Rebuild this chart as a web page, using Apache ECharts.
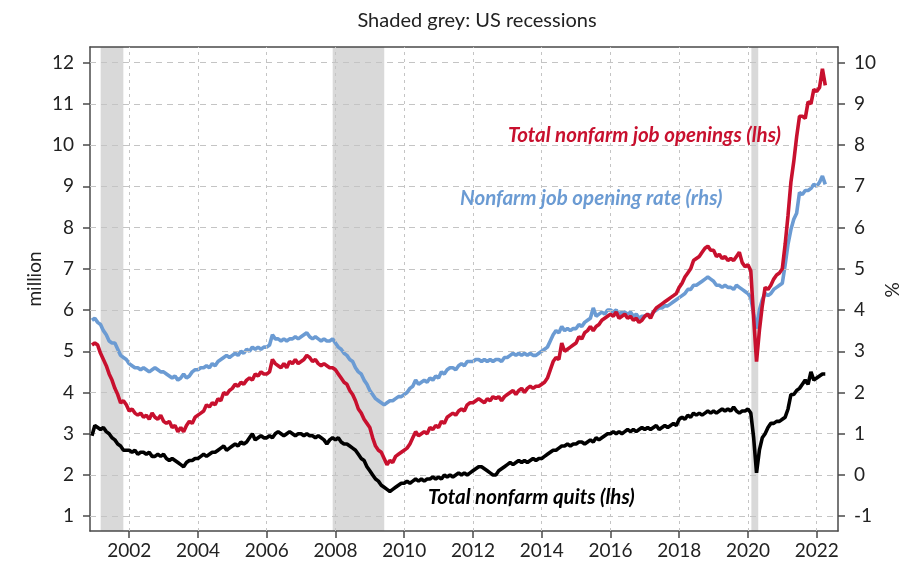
<!DOCTYPE html>
<html>
<head>
<meta charset="utf-8">
<script src="https://cdn.jsdelivr.net/npm/echarts@6/dist/echarts.min.js"></script>
<style>
  html, body { margin: 0; padding: 0; background: #fff; }
  #main { width: 918px; height: 566px; }
</style>
</head>
<body>
<div id="main"></div>
<script>
// monthly JOLTS, Dec 2000 .. Apr 2022
var startYear = 2000 + 11 / 12;

// total nonfarm job openings, million (lhs)
var openings = [
  5.15,
  5.2, 5.15, 4.95, 4.8, 4.65, 4.45, 4.3, 4.1, 3.95, 3.75, 3.8, 3.7,
  3.55, 3.6, 3.5, 3.45, 3.5, 3.4, 3.45, 3.35, 3.5, 3.4, 3.35, 3.45,
  3.3, 3.25, 3.3, 3.15, 3.2, 3.05, 3.15, 3.05, 3.2, 3.3, 3.25, 3.4,
  3.45, 3.5, 3.55, 3.7, 3.65, 3.75, 3.7, 3.85, 3.8, 4.0, 3.95, 4.05,
  4.1, 4.2, 4.15, 4.25, 4.2, 4.3, 4.35, 4.3, 4.45, 4.4, 4.5, 4.45,
  4.45, 4.5, 4.8, 4.7, 4.65, 4.6, 4.7, 4.6, 4.75, 4.7, 4.8, 4.7,
  4.75, 4.8, 4.9, 4.85, 4.75, 4.8, 4.7, 4.65, 4.7, 4.65, 4.6, 4.6,
  4.55, 4.45, 4.35, 4.25, 4.2, 4.05, 3.95, 3.8, 3.6, 3.5, 3.35, 3.25,
  3.15, 2.9, 2.7, 2.6, 2.55, 2.4, 2.25, 2.35, 2.3, 2.45, 2.5, 2.55,
  2.6, 2.65, 2.75, 2.9, 3.05, 2.95, 3.0, 3.05, 3.0, 3.15, 3.1, 3.2,
  3.15, 3.3, 3.25, 3.4, 3.45, 3.5, 3.45, 3.55, 3.6, 3.55, 3.7, 3.75,
  3.75, 3.8, 3.85, 3.8, 3.75, 3.85, 3.8, 3.9, 3.85, 3.9, 3.8, 3.9,
  3.95, 4.0, 4.05, 3.95, 4.05, 4.1, 4.0, 4.1, 4.15, 4.1, 4.15, 4.15,
  4.2, 4.25, 4.35, 4.55, 4.75, 4.85, 4.8, 5.2, 5.0, 5.05, 5.1, 5.15,
  5.2, 5.35, 5.3, 5.45, 5.5, 5.6, 5.5, 5.6, 5.65, 5.75, 5.8, 5.85,
  5.9, 5.85, 5.95, 5.8, 5.85, 5.9, 5.8, 5.85, 5.75, 5.8, 5.7, 5.75,
  5.85, 5.9, 5.8, 5.95, 6.05, 6.1, 6.15, 6.2, 6.25, 6.3, 6.35, 6.4,
  6.55, 6.65, 6.8, 6.9, 7.0, 7.2, 7.25, 7.3, 7.4, 7.5, 7.55, 7.45,
  7.45, 7.3, 7.35, 7.25, 7.3, 7.2, 7.25, 7.2, 7.3, 7.4, 7.15, 7.05,
  7.1, 6.95, 5.8, 4.75, 5.5, 6.1, 6.55, 6.5, 6.6, 6.75, 6.85, 6.9,
  7.0, 7.6, 8.3, 9.1, 9.6, 10.2, 10.7, 10.7, 10.65, 11.05, 11.0, 11.35,
  11.3, 11.4, 11.85, 11.45
];

// total nonfarm quits, million (lhs)
var quits = [
  2.95,
  3.2, 3.15, 3.1, 3.15, 3.05, 3.0, 2.9, 2.85, 2.75, 2.7, 2.6, 2.6,
  2.6, 2.55, 2.6, 2.5, 2.55, 2.55, 2.5, 2.55, 2.45, 2.45, 2.5, 2.45,
  2.5, 2.4, 2.35, 2.4, 2.35, 2.3, 2.25, 2.2, 2.3, 2.35, 2.35, 2.4,
  2.4, 2.45, 2.5, 2.45, 2.5, 2.55, 2.55, 2.6, 2.65, 2.7, 2.6, 2.65,
  2.7, 2.75, 2.7, 2.8, 2.75, 2.8, 2.9, 3.0, 2.85, 2.9, 2.95, 2.9,
  2.9, 2.95, 2.9, 3.0, 3.05, 3.0, 2.95, 3.0, 3.05, 3.0, 2.95, 3.0,
  3.0, 2.95, 3.0, 2.95, 2.95, 2.9, 2.95, 2.9, 2.85, 2.75, 2.85, 2.9,
  2.85, 2.9, 2.8, 2.75, 2.75, 2.7, 2.65, 2.6, 2.5, 2.4, 2.35, 2.2,
  2.1, 2.0, 1.9, 1.85, 1.75, 1.7, 1.65, 1.6, 1.65, 1.7, 1.75, 1.8,
  1.8, 1.85, 1.8, 1.85, 1.9, 1.85, 1.9, 1.85, 1.9, 1.9, 1.95, 1.9,
  1.95, 1.9, 2.0, 1.95, 2.0, 1.95, 2.0, 2.05, 2.0, 2.05, 2.0, 2.05,
  2.1, 2.15, 2.2, 2.2, 2.15, 2.1, 2.05, 2.0, 2.0, 2.1, 2.15, 2.2,
  2.25, 2.3, 2.25, 2.3, 2.35, 2.3, 2.35, 2.3, 2.35, 2.4, 2.35, 2.4,
  2.4, 2.45, 2.5, 2.55, 2.6, 2.6, 2.65, 2.7, 2.7, 2.75, 2.7, 2.75,
  2.75, 2.8, 2.8, 2.75, 2.8, 2.85, 2.8, 2.9, 2.85, 2.9, 2.95, 3.0,
  3.0, 3.05, 3.0, 3.05, 3.0, 3.05, 3.1, 3.05, 3.1, 3.05, 3.1, 3.15,
  3.1, 3.15, 3.1, 3.15, 3.2, 3.1, 3.15, 3.2, 3.15, 3.2, 3.25, 3.2,
  3.35, 3.4, 3.35, 3.45, 3.4, 3.5, 3.45, 3.5, 3.45, 3.5, 3.55, 3.5,
  3.55, 3.5, 3.55, 3.6, 3.55, 3.6, 3.55, 3.65, 3.55, 3.5, 3.55, 3.55,
  3.6, 3.5, 2.9, 2.05, 2.6, 2.9, 3.0, 3.15, 3.25, 3.25, 3.3, 3.3,
  3.35, 3.4, 3.6, 3.95, 3.95, 4.05, 4.1, 4.2, 4.3, 4.2, 4.5, 4.3,
  4.35, 4.4, 4.45, 4.45
];

// nonfarm job opening rate, % (rhs)
var openingRate = [
  3.75,
  3.8, 3.7, 3.65, 3.5, 3.4, 3.25, 3.2, 3.2, 3.05, 2.9, 2.85, 2.8,
  2.7, 2.65, 2.6, 2.6, 2.55, 2.6, 2.55, 2.5, 2.55, 2.6, 2.55, 2.5,
  2.5, 2.45, 2.4, 2.35, 2.4, 2.3, 2.35, 2.45, 2.35, 2.4, 2.5, 2.55,
  2.55, 2.6, 2.6, 2.65, 2.6, 2.7, 2.65, 2.75, 2.8, 2.85, 2.9, 2.85,
  2.9, 2.95, 2.9, 3.0, 2.95, 3.05, 3.0, 3.1, 3.05, 3.1, 3.05, 3.1,
  3.1, 3.15, 3.4, 3.3, 3.3, 3.25, 3.3, 3.25, 3.3, 3.3, 3.35, 3.3,
  3.35, 3.4, 3.45, 3.35, 3.3, 3.35, 3.3, 3.25, 3.3, 3.25, 3.25, 3.3,
  3.2, 3.1, 3.05, 2.95, 2.9, 2.8, 2.75, 2.6, 2.5, 2.45, 2.3, 2.2,
  2.05, 1.95, 1.85, 1.8, 1.75, 1.7, 1.75, 1.8, 1.8, 1.85, 1.9, 1.9,
  1.95, 2.0, 2.1, 2.15, 2.3, 2.2, 2.25, 2.3, 2.25, 2.35, 2.3, 2.4,
  2.35, 2.5, 2.45, 2.55, 2.6, 2.6, 2.55, 2.65, 2.7, 2.65, 2.75, 2.75,
  2.75, 2.8, 2.8, 2.75, 2.8, 2.75, 2.8, 2.75, 2.8, 2.8, 2.75, 2.85,
  2.85, 2.9, 2.95, 2.9, 2.95, 2.9, 2.95, 2.9, 2.95, 2.9, 2.9, 2.95,
  3.0, 3.05, 3.1, 3.25, 3.4, 3.5, 3.45, 3.6, 3.5, 3.55, 3.5, 3.55,
  3.55, 3.65, 3.6, 3.7, 3.75, 3.8, 4.05, 3.85, 3.9, 3.95, 3.9, 4.0,
  4.0, 3.95, 4.0, 3.9, 3.95, 3.95, 3.9, 3.95, 3.85, 3.9, 3.8, 3.85,
  3.85, 3.9, 3.85, 3.95, 4.0, 4.05, 4.05, 4.1, 4.1, 4.15, 4.2, 4.25,
  4.3, 4.35, 4.4, 4.5, 4.5, 4.6, 4.6, 4.65, 4.7, 4.75, 4.8, 4.75,
  4.7, 4.6, 4.6, 4.55, 4.6, 4.55, 4.55, 4.5, 4.6, 4.55, 4.5, 4.45,
  4.4, 4.3, 3.9, 3.55, 4.0, 4.25, 4.4, 4.35, 4.4, 4.5, 4.55, 4.6,
  4.65, 5.1, 5.6, 5.95, 6.2, 6.35, 6.85, 6.8, 6.9, 6.9, 6.95, 7.05,
  7.0, 7.1, 7.25, 7.05
];

// US recessions (decimal years)
var recessions = [[2001.17, 2001.83], [2007.92, 2009.42], [2020.1, 2020.3]];

var yearTicks = [2002, 2004, 2006, 2008, 2010, 2012, 2014, 2016, 2018, 2020, 2022];
var leftTicks = [1, 2, 3, 4, 5, 6, 7, 8, 9, 10, 11, 12];
var rightTicks = [-1, 0, 1, 2, 3, 4, 5, 6, 7, 8, 9, 10];

function toPairs(arr) {
  var out = [];
  for (var i = 0; i < arr.length; i++) {
    out.push([startYear + i / 12, arr[i]]);
  }
  return out;
}

var font = 'Lato';
var red = '#c8102e';
var blue = '#6b9bd3';
var frame = '#4a4a4a';
var gridCol = '#c4c4c4';

// dashed grid drawn as mark lines so it follows the custom tick values
var gridLines = [];
yearTicks.forEach(function (y) {
  gridLines.push({ xAxis: y, lineStyle: { color: gridCol, type: [3, 4], width: 1 } });
});
leftTicks.forEach(function (v) {
  gridLines.push({ yAxis: v, lineStyle: { color: gridCol, type: [6, 5], width: 1 } });
});

let chart = echarts.init(document.getElementById('main'));

let option = {
  backgroundColor: '#fff',
  animation: false,
  textStyle: { fontFamily: font },
  title: {
    text: 'Shaded grey: US recessions',
    left: 472,
    top: 6,
    textAlign: 'center',
    textStyle: { fontFamily: font, fontSize: 20, fontWeight: 'normal', color: '#222' }
  },
  grid: { left: 90, right: 80, top: 47, bottom: 35 },
  xAxis: [{
    type: 'value',
    min: 2000.86,
    max: 2022.62,
    z: 3,
    axisLine: { show: true, onZero: false, lineStyle: { color: frame, width: 1.5 } },
    axisTick: { show: true, length: 7, customValues: yearTicks, lineStyle: { color: frame, width: 1.5 } },
    axisLabel: { customValues: yearTicks, fontSize: 19, color: '#222', margin: 10,
      formatter: function (v) { return String(Math.round(v)); } },
    splitLine: { show: false }
  }, {
    type: 'value',
    position: 'top',
    min: 2000.86,
    max: 2022.62,
    z: 3,
    axisLine: { show: true, onZero: false, lineStyle: { color: frame, width: 1.5 } },
    axisTick: { show: false },
    axisLabel: { show: false },
    splitLine: { show: false }
  }],
  yAxis: [{
    type: 'value',
    min: 0.64,
    max: 12.38,
    z: 3,
    axisLine: { show: true, onZero: false, lineStyle: { color: frame, width: 1.5 } },
    axisTick: { show: true, length: 7, customValues: leftTicks, lineStyle: { color: frame, width: 1.5 } },
    axisLabel: { customValues: leftTicks, fontSize: 19, color: '#222', margin: 16 },
    splitLine: { show: false }
  }, {
    type: 'value',
    min: -1.36,
    max: 10.38,
    position: 'right',
    z: 3,
    axisLine: { show: true, onZero: false, lineStyle: { color: frame, width: 1.5 } },
    axisTick: { show: true, length: 7, customValues: rightTicks, lineStyle: { color: frame, width: 1.5 } },
    axisLabel: { customValues: rightTicks, fontSize: 19, color: '#222', margin: 16 },
    splitLine: { show: false }
  }],
  series: [{
    name: 'recessions',
    type: 'line',
    data: [],
    z: 1,
    silent: true,
    markArea: {
      silent: true,
      itemStyle: { color: '#d9d9d9' },
      data: recessions.map(function (r) { return [{ xAxis: r[0] }, { xAxis: r[1] }]; })
    }
  }, {
    name: 'grid',
    type: 'line',
    data: [],
    z: 2,
    silent: true,
    markLine: {
      silent: true,
      symbol: 'none',
      label: { show: false },
      data: gridLines
    }
  }, {
    name: 'Nonfarm job opening rate (rhs)',
    type: 'line',
    yAxisIndex: 1,
    z: 4,
    showSymbol: false,
    data: toPairs(openingRate),
    lineStyle: { color: blue, width: 3.6 }
  }, {
    name: 'Total nonfarm job openings (lhs)',
    type: 'line',
    z: 5,
    showSymbol: false,
    data: toPairs(openings),
    lineStyle: { color: red, width: 3.6 }
  }, {
    name: 'Total nonfarm quits (lhs)',
    type: 'line',
    z: 5,
    showSymbol: false,
    data: toPairs(quits),
    lineStyle: { color: '#000', width: 3.6 }
  }],
  graphic: [{
    type: 'text', left: 508, top: 125, z: 10,
    style: { text: 'Total nonfarm job openings (lhs)', fill: red,
      font: 'italic bold 20.5px Lato' }
  }, {
    type: 'text', left: 460, top: 188, z: 10,
    style: { text: 'Nonfarm job opening rate (rhs)', fill: blue,
      font: 'italic bold 20.5px Lato' }
  }, {
    type: 'text', left: 428, top: 487, z: 10,
    style: { text: 'Total nonfarm quits (lhs)', fill: '#000',
      font: 'italic bold 20.5px Lato' }
  }, {
    type: 'text', x: 35, y: 279, rotation: Math.PI / 2, z: 10,
    style: { text: 'million', fill: '#222', font: '19px Lato', align: 'center', verticalAlign: 'middle' }
  }, {
    type: 'text', x: 893, y: 290, rotation: Math.PI / 2, z: 10,
    style: { text: '%', fill: '#222', font: '19px Lato', align: 'center', verticalAlign: 'middle' }
  }]
};

chart.setOption(option);
</script>
</body>
</html>
